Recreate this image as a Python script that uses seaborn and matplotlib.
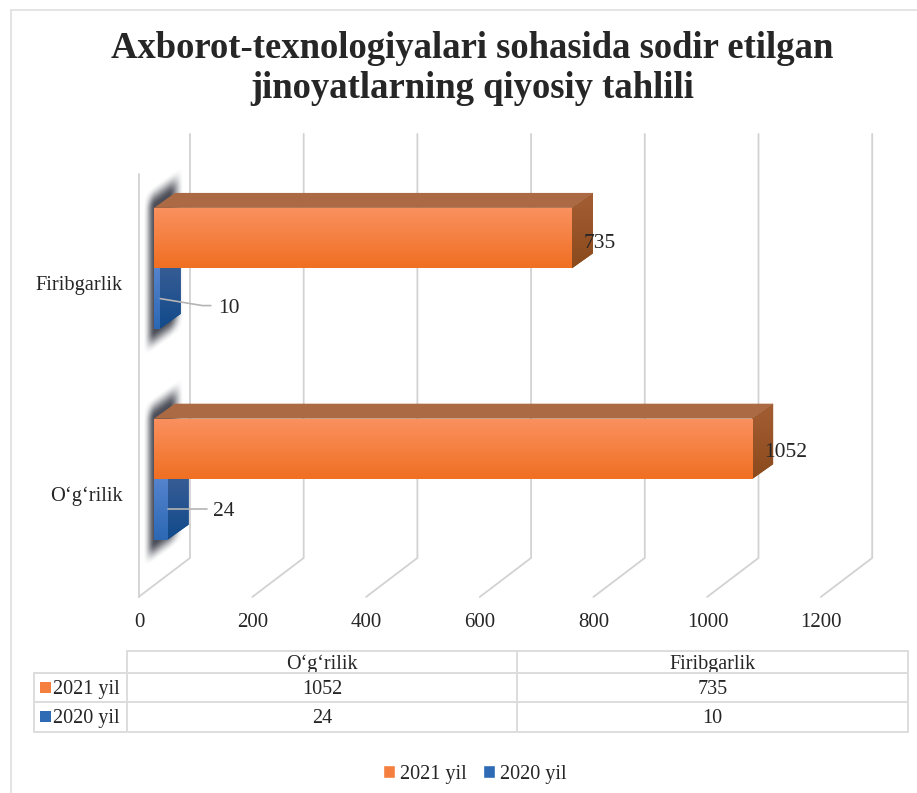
import numpy as np
import pandas as pd
import matplotlib
matplotlib.use("Agg")
import matplotlib.pyplot as plt
import seaborn as sns
from matplotlib.colors import LinearSegmentedColormap
from matplotlib.patches import Patch, Polygon, Rectangle
from matplotlib.transforms import Affine2D, ScaledTranslation

# Data
categories = ["Firibgarlik", "O‘g‘rilik"]
table_categories = ["O‘g‘rilik", "Firibgarlik"]
series_names = ["2021 yil", "2020 yil"]
values_2021 = [735, 1052]
values_2020 = [10, 24]
table_2021 = [1052, 735]
table_2020 = [24, 10]
x_ticks = [0, 200, 400, 600, 800, 1000, 1200]

W, H = 917, 793
FONT = "Liberation Serif"
TEXT = "#262626"
WALL = "#d2d2d2"

sns.set_theme(style="white")
plt.rcParams["font.family"] = [FONT, "DejaVu Serif"]

df = pd.DataFrame({
    "category": categories * 2,
    "series": [series_names[0]] * 2 + [series_names[1]] * 2,
    "value": values_2021 + values_2020,
})

fig = plt.figure(figsize=(W / 100, H / 100), dpi=100, facecolor="white")


def px_box(left, top, right, bottom):
    return [left / W, 1 - bottom / H, (right - left) / W, (bottom - top) / H]


ax = fig.add_axes(px_box(154, 163, 836.2, 584.5))
ax.set_zorder(2)
sns.barplot(data=df, y="category", x="value", hue="series", order=categories,
            hue_order=series_names, palette=["#f37a35", "#2f6ab5"], width=0.574,
            legend=False, ax=ax)
ax.set_xlim(0, 1200)
ax.set_ylim(1.5, -0.5)
ax.set_xlabel("")
ax.set_ylabel("")
sns.despine(ax=ax, left=True, bottom=True)
ax.patch.set_alpha(0)

# pixels per data unit, and depth of the fake 3D in data units
sx, sy = 682.2 / 1200, 421.5 / 2
bar_dx, bar_dy = 37, -0.071
front_dx, front_dy = -27, 0.059
back_dx, back_dy = 63.3, -0.126
wall_top = -0.638

# back wall and floor lines
for t in x_ticks:
    ax.plot([t + front_dx, t + back_dx, t + back_dx], [1.5 + front_dy, 1.5 + back_dy, wall_top],
            color=WALL, lw=1.3, clip_on=False, zorder=0.5, solid_joinstyle="miter")
ax.plot([front_dx, front_dx], [1.5 + front_dy, -0.448], color=WALL, lw=1.3, clip_on=False, zorder=0.5)


def gradient(patch, xy, top_color, bottom_color, zorder):
    ax.add_patch(patch)
    patch.set_clip_on(False)
    patch.set_zorder(zorder - 0.01)
    cmap = LinearSegmentedColormap.from_list("g", [top_color, bottom_color])
    xy = np.array(xy)
    img = ax.imshow(np.linspace(0, 1, 64).reshape(-1, 1), cmap=cmap, aspect="auto", origin="upper",
                    extent=(xy[:, 0].min(), xy[:, 0].max(), xy[:, 1].max(), xy[:, 1].min()),
                    zorder=zorder)
    img.set_clip_path(patch)


def smooth(t):
    t = np.clip(t, 0, 1)
    return t * t * (3 - 2 * t)


styles = [
    {"front": ("#fa9160", "#f06f22"), "side": ("#a55e34", "#8a4a1c"), "top": "#ab6a43", "z": 4},
    {"front": ("#5583cd", "#2c68b4"), "side": ("#3f6096", "#114a8b"), "top": "#3f6096", "z": 2},
]

# soft shadow behind the base of each bar group, in an underlay axes with the same scale
under = fig.add_axes(px_box(134, 143, 214, 604.5))
under.set_zorder(1)
under.axis("off")
for i in range(len(categories)):
    orange = ax.containers[0][i]
    blue = ax.containers[1][i]
    y_top = orange.get_y()
    y_bot = blue.get_y() + blue.get_height()
    x_lo, x_hi = -14 / sx, 32 / sx
    y_lo, y_hi = y_top - 50 / sy, y_bot + 32 / sy
    xs, ys = np.meshgrid(np.linspace(x_lo, x_hi, 120), np.linspace(y_lo, y_hi, 300))
    u = xs * sx
    v = (ys - y_top) * sy + u * 15 / 21  # distance below the bar top, sheared with the depth
    v_bot = (y_bot - y_top) * sy
    a = smooth((u + 11) / 12) * smooth((30 - u) / 15) * smooth((v + 23) / 21) * smooth((v_bot + 22 - v) / 20)
    rgba = np.zeros(xs.shape + (4,))
    rgba[..., :3] = matplotlib.colors.to_rgb("#2b2e3a")
    rgba[..., 3] = a * 0.85
    under.imshow(rgba, aspect="auto", origin="upper", extent=(x_lo, x_hi, y_hi, y_lo))
under.set_xlim(-20 / sx, 60 / sx)
under.set_ylim(1.5 + 20 / sy, -0.5 - 20 / sy)

for container, st in zip(ax.containers, styles):
    for bar in container:
        x1 = bar.get_width()
        y0 = bar.get_y()
        y1 = y0 + bar.get_height()
        bar.set_zorder(st["z"])
        bar.set_edgecolor("none")
        bar.set_linewidth(0)
        top = Polygon([(0, y0), (bar_dx, y0 + bar_dy), (x1 + bar_dx, y0 + bar_dy), (x1, y0)],
                      closed=True, facecolor=st["top"], edgecolor="none", zorder=st["z"])
        ax.add_patch(top)
        top.set_clip_on(False)
        side_xy = [(x1, y0), (x1 + bar_dx, y0 + bar_dy), (x1 + bar_dx, y1 + bar_dy), (x1, y1)]
        side = Polygon(side_xy, closed=True, facecolor=st["side"][1], edgecolor="none")
        gradient(side, side_xy, st["side"][0], st["side"][1], st["z"] + 0.1)
        front = Rectangle((0, y0), x1, y1 - y0, facecolor=st["front"][1], edgecolor="none")
        gradient(front, [(0, y0), (x1, y1)], st["front"][0], st["front"][1], st["z"] + 0.2)

ax.set_xlim(0, 1200)
ax.set_ylim(1.5, -0.5)

# data labels
label_size = 15.5
for i, v in enumerate(values_2021):
    bar = ax.containers[0][i]
    yc = bar.get_y() + bar.get_height() / 2
    ax.text(v + 21, yc + (0.026 if i == 0 else 0.016), str(v), ha="left", va="center", fontsize=label_size,
            color=TEXT, zorder=8)

leaders = [([1, 75, 90], [0, 0.033, 0.033], 102, 0.045), ([1, 69, 69], [0, 0, 0], 79, 0.012)]
for i, v in enumerate(values_2020):
    bar = ax.containers[1][i]
    yc = bar.get_y() + bar.get_height() / 2
    dxs, dys, text_dx, text_dy = leaders[i]
    ax.plot([v + d for d in dxs], [yc + d for d in dys], color="#b4b4b4", lw=1.2, zorder=7, clip_on=False)
    ax.text(v + text_dx, yc + text_dy, str(v), ha="left", va="center", fontsize=label_size,
            color=TEXT, zorder=8)

# axis labels sit off the bar plane
ax.set_xticks(x_ticks)
ax.set_xticklabels([str(t) for t in x_ticks], fontsize=15, color=TEXT)
ax.tick_params(axis="x", length=0, pad=20.5)
ax.set_yticks(range(len(categories)))
ax.set_yticklabels(categories, fontsize=14.7, color=TEXT)
ax.tick_params(axis="y", length=0, pad=22.5)
x_shift = ScaledTranslation(-15 / 100, 0, fig.dpi_scale_trans)
y_shift = ScaledTranslation(0, -14.5 / 100, fig.dpi_scale_trans)
for lab in ax.get_xticklabels():
    lab.set_transform(lab.get_transform() + x_shift)
for lab in ax.get_yticklabels():
    lab.set_transform(lab.get_transform() + y_shift)

# title
fig.text(472 / W, 1 - 49 / H, "Axborot-texnologiyalari sohasida sodir etilgan", ha="center", va="center",
         fontsize=26.4, fontweight="bold", color=TEXT)
fig.text(472 / W, 1 - 89 / H, "jinoyatlarning qiyosiy tahlili", ha="center", va="center",
         fontsize=26.4, fontweight="bold", color=TEXT)

# data table
tab_ax = fig.add_axes(px_box(34, 651, 908, 731.5))
tab_ax.axis("off")
cells = [[""] + table_categories,
         [""] + [str(v) for v in table_2021],
         [""] + [str(v) for v in table_2020]]
col_w = np.array([93, 390, 391]) / 874
row_h = np.array([22, 29.25, 29.25]) / 80.5
tbl = tab_ax.table(cellText=cells, colWidths=list(col_w), cellLoc="center", bbox=[0, 0, 1, 1])
tbl.auto_set_font_size(False)
tbl.set_fontsize(14.5)
for (r, c), cell in tbl.get_celld().items():
    cell.set_edgecolor("#dddddd")
    cell.set_linewidth(1.4)
    cell.set_height(row_h[r])
    cell.get_text().set_color(TEXT)
    cell.get_text().set_transform(Affine2D().translate(0, -2))
    if r == 0 and c == 0:
        cell.set_visible(False)
for y_px, color, name in zip([687.3, 716.3], ["#f47f3e", "#2f6ab5"], series_names):
    fig.add_artist(Rectangle((40 / W, 1 - (y_px + 5.5) / H), 11 / W, 11 / H, transform=fig.transFigure,
                             facecolor=color, edgecolor="none"))
    fig.text(120 / W, 1 - (y_px + 2) / H, name, ha="right", va="center", fontsize=14.5, color=TEXT)

# legend
handles = [Patch(facecolor="#f47f3e", label=series_names[0]), Patch(facecolor="#2f6ab5", label=series_names[1])]
fig.legend(handles=handles, loc="center", bbox_to_anchor=(474.5 / W, 1 - 774 / H), ncol=2, frameon=False,
           fontsize=14.5, handlelength=0.6, handleheight=0.6, handletextpad=0.25, columnspacing=0.8,
           labelcolor=TEXT)

# chart border, only left and top are in the frame
fig.add_artist(plt.Line2D([10.5 / W, 10.5 / W], [0, 1 - 9.5 / H], color="#e2e2e2", lw=1.3))
fig.add_artist(plt.Line2D([10.5 / W, 1], [1 - 9.5 / H, 1 - 9.5 / H], color="#e2e2e2", lw=1.3))

fig.savefig("out.png", dpi=100, facecolor="white")
